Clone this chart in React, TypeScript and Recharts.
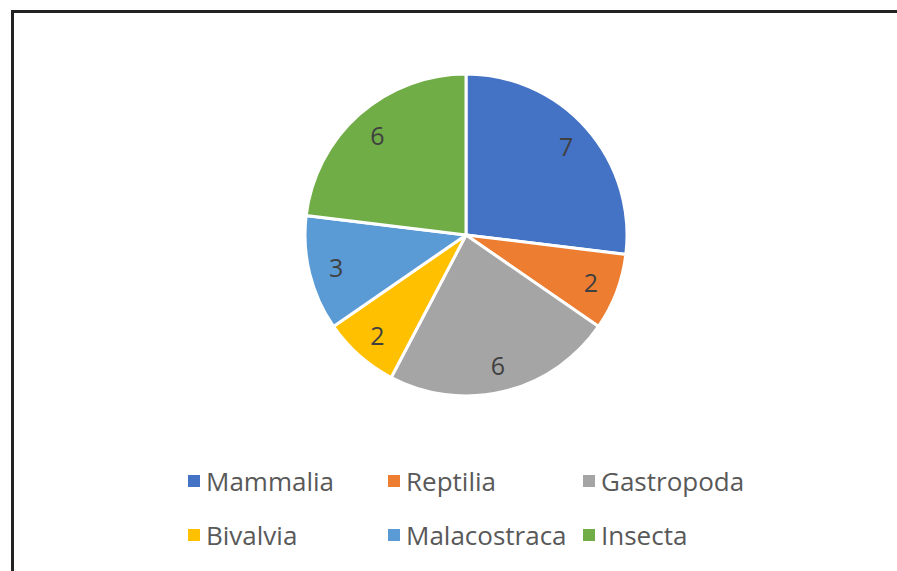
import { Legend, Pie, PieChart, Cell } from "recharts";

const classes = ["Mammalia", "Reptilia", "Gastropoda", "Bivalvia", "Malacostraca", "Insecta"];
const counts = [7, 2, 6, 2, 3, 6];
const colors = ["#4472C4", "#ED7D31", "#A5A5A5", "#FFC000", "#5B9BD5", "#70AD47"];

const data = classes.map((name, i) => ({ name, value: counts[i] }));

const RADIAN = Math.PI / 180;

function renderLabel(props: any) {
  const { cx, cy, midAngle, outerRadius, value } = props;
  const r = outerRadius * 0.83;
  const x = cx + r * Math.cos(-midAngle * RADIAN);
  const y = cy + r * Math.sin(-midAngle * RADIAN);
  return (
    <text
      x={x}
      y={y}
      fill="#404040"
      fontSize={25}
      textAnchor="middle"
      dominantBaseline="central"
      fontFamily="Open Sans, sans-serif"
    >
      {value}
    </text>
  );
}

// keep the legend in the series order, not alphabetical
function LegendGrid() {
  return (
    <div
      style={{
        display: "grid",
        gridTemplateColumns: "200px 195px 200px",
        rowGap: 22,
        fontFamily: "Open Sans, sans-serif",
        fontSize: 26,
        color: "#595959",
      }}
    >
      {classes.map((name, i) => (
        <div key={name} style={{ display: "flex", alignItems: "center", lineHeight: "32px" }}>
          <span
            style={{
              display: "inline-block",
              width: 12,
              height: 12,
              background: colors[i],
              marginRight: 6,
            }}
          />
          {name}
        </div>
      ))}
    </div>
  );
}

export default function App() {
  return (
    <div
      style={{
        position: "absolute",
        left: 11,
        top: 10,
        width: 900,
        height: 580,
        borderLeft: "3px solid #222",
        borderTop: "3px solid #222",
        background: "#fff",
      }}
    >
      <PieChart width={885} height={560}>
        <Pie
          data={data}
          dataKey="value"
          nameKey="name"
          cx={447}
          cy={217}
          outerRadius={161}
          startAngle={90}
          endAngle={-270}
          stroke="#fff"
          strokeWidth={3}
          label={renderLabel}
          labelLine={false}
          isAnimationActive={false}
        >
          {data.map((d, i) => (
            <Cell key={d.name} fill={colors[i]} />
          ))}
        </Pie>
        <Legend
          content={<LegendGrid />}
          wrapperStyle={{ position: "absolute", left: 174, top: 452, width: 620 }}
        />
      </PieChart>
    </div>
  );
}
